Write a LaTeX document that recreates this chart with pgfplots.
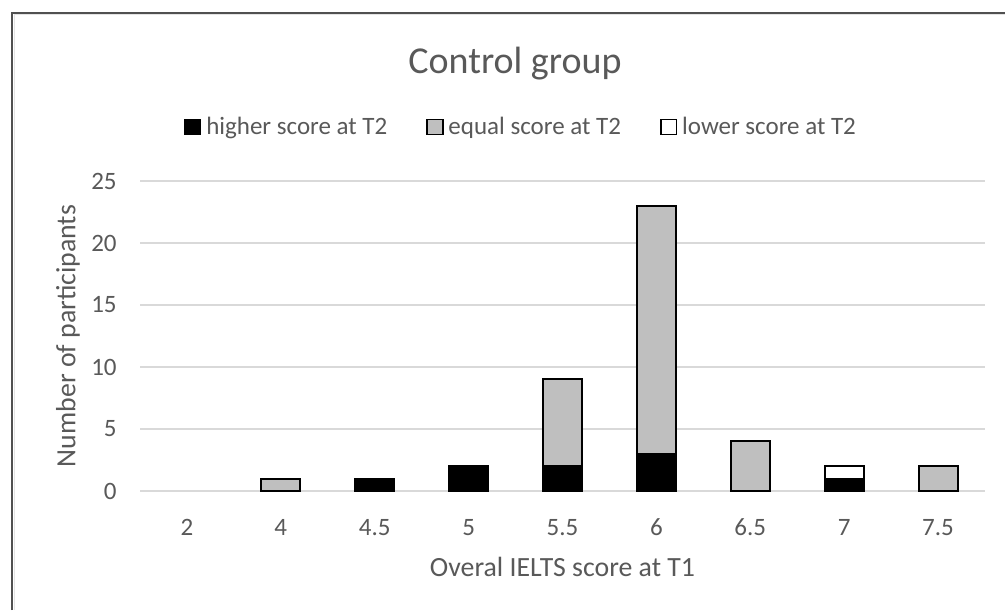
\documentclass[border=0pt]{standalone}
\usepackage{fontspec}
\setmainfont{Carlito}
\usepackage{pgfplots}
\pgfplotsset{compat=1.18}
\definecolor{txt}{HTML}{595959}
\definecolor{gridc}{HTML}{D9D9D9}
\definecolor{eqc}{HTML}{BFBFBF}
\definecolor{framec}{HTML}{505050}
\begin{document}
\begin{tikzpicture}
\useasboundingbox (0,0) rectangle (502.5pt,305pt);
\fill[white] (0,0) rectangle (502.5pt,305pt);
\draw[framec, line width=1pt] (6pt,0pt) -- (6pt,298.5pt) -- (502.5pt,298.5pt);
\draw[gridc!70, line width=0.5pt] (7pt,0pt) -- (7pt,297.5pt) -- (502.5pt,297.5pt);
\node[font=\fontsize{19}{22}\selectfont, text=txt] at (257.5pt,273pt) {Control group};
\begin{axis}[
  at={(70pt,59.5pt)}, anchor=south west,
  scale only axis, width=422.5pt, height=155pt,
  ybar stacked, bar width=19.5pt,
  xmin=-0.5, xmax=8.5, ymin=0, ymax=25,
  xtick={0,...,8}, xticklabels={2,4,4.5,5,5.5,6,6.5,7,7.5},
  ytick={0,5,...,25},
  ymajorgrids, grid style={gridc, line width=1pt},
  axis line style={draw=none},
  major tick length=0pt,
  tick label style={font=\fontsize{12.5}{15}\selectfont, text=txt},
  /pgf/number format/assume math mode=true,
  yticklabel style={inner sep=0pt, xshift=-11.5pt},
  xticklabel style={inner sep=0pt, yshift=-13pt, text height=9pt, text depth=0pt},
  xlabel={Overal IELTS score at T1},
  ylabel={Number of participants},
  label style={font=\fontsize{13.9}{16}\selectfont, text=txt},
  xlabel style={at={(axis description cs:0.5,0)}, anchor=center, yshift=-38pt},
  ylabel style={at={(axis description cs:-0.0852,0.5)}, anchor=center},
  legend columns=3,
  legend style={at={(axis description cs:0.4497,1.174)}, anchor=center, draw=none, fill=none,
    font=\fontsize{12.5}{15}\selectfont, text=txt, nodes={inner sep=0pt},
    /tikz/every even column/.append style={column sep=19.5pt},
    /tikz/every odd column/.append style={column sep=2.5pt}},
  legend image code/.code={\draw[#1, line width=0.8pt] (0pt,-3.8pt) rectangle (7.8pt,3.8pt);},
  every axis plot/.append style={draw=black, line width=1pt},
]
\addplot[fill=black] coordinates {(1,0) (2,1) (3,2) (4,2) (5,3) (6,0) (7,1) (8,0)};
\addplot[fill=eqc] coordinates {(1,1) (2,0) (3,0) (4,7) (5,20) (6,4) (7,0) (8,2)};
\addplot[fill=white] coordinates {(1,0) (2,0) (3,0) (4,0) (5,0) (6,0) (7,1) (8,0)};
\legend{higher score at T2, equal score at T2, lower score at T2}
\end{axis}
\end{tikzpicture}
\end{document}
